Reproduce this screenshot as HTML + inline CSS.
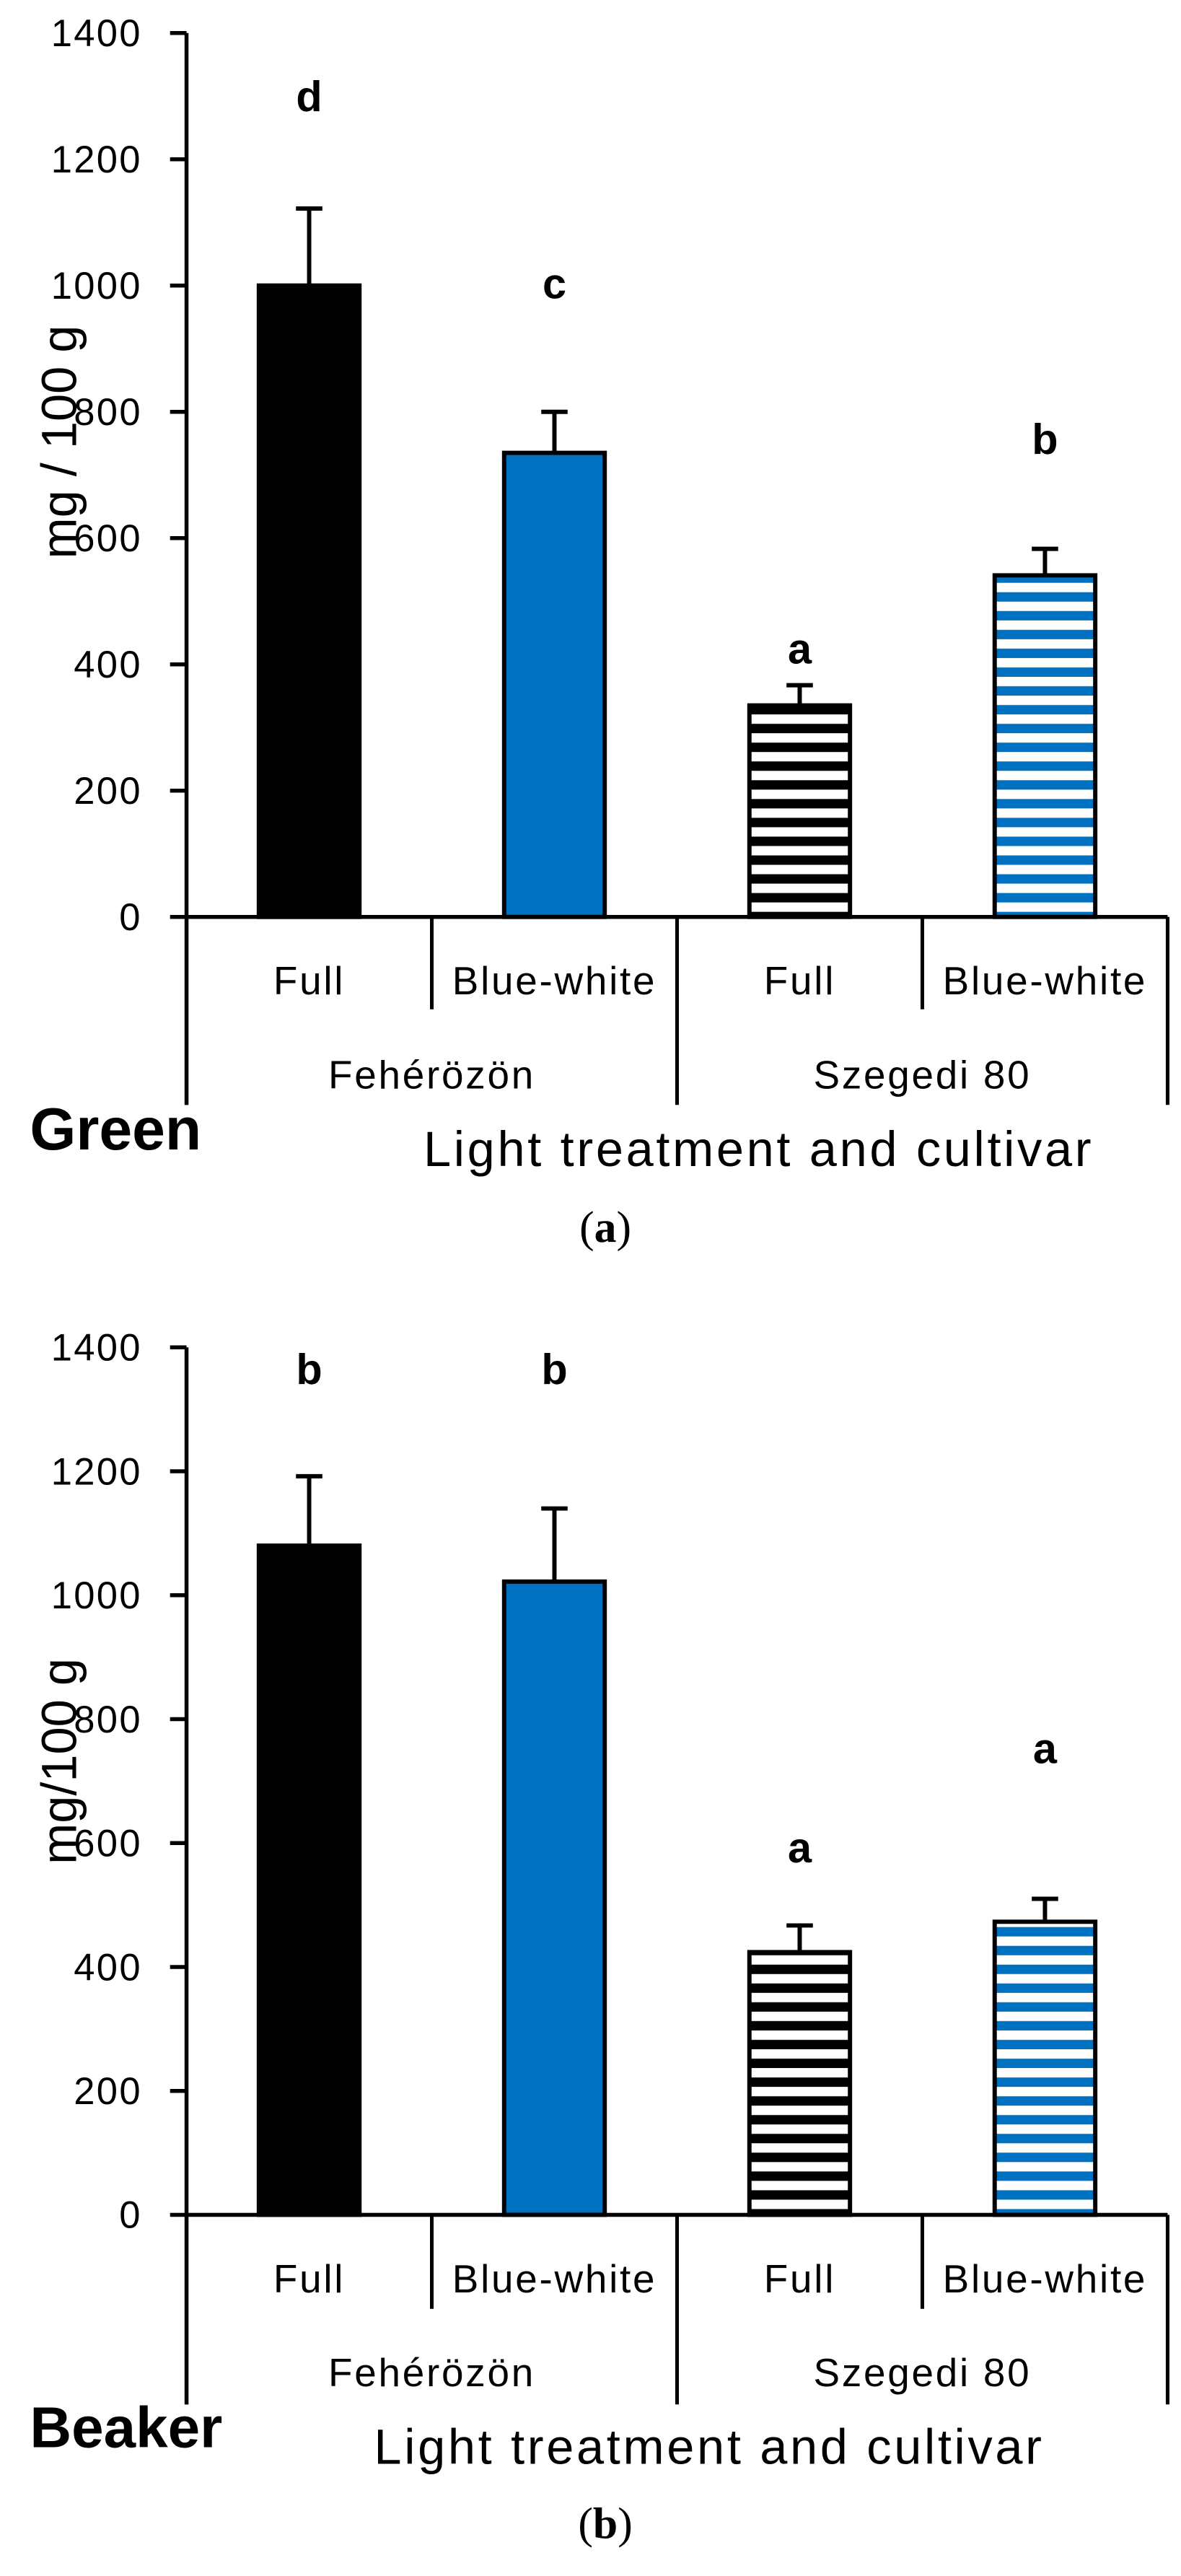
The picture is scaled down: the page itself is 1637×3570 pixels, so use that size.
<!DOCTYPE html>
<html><head><meta charset="utf-8"><style>
html,body{margin:0;padding:0;background:#fff}
svg{display:block}
text{font-family:"Liberation Sans",sans-serif;fill:#000}
</style></head><body>
<svg id="root" width="1637" height="3570" viewBox="0 0 716 1562" xmlns="http://www.w3.org/2000/svg">
<defs>
<pattern id="stripeBlack" patternUnits="userSpaceOnUse" width="10" height="11.4"><rect width="10" height="11.4" fill="#fff"/><rect y="5.7" width="10" height="5.7" fill="#000"/></pattern>
<pattern id="stripeBlue" patternUnits="userSpaceOnUse" width="10" height="11.4"><rect width="10" height="11.4" fill="#fff"/><rect y="5.7" width="10" height="5.7" fill="#0070c0"/></pattern>
</defs>
</svg>
<script>
const categories = ["Full","Blue-white","Full","Blue-white"];
const cultivars = ["Fehérözön","Szegedi 80"];
const tickValues = [0,200,400,600,800,1000,1200,1400];
const greenValues = [1000,735,335,541];
const greenErrors = [122,65,32,42];
const greenLetters = ["d","c","a","b"];
const greenLetterValues = [1300,1003,425,757];
const beakerValues = [1080,1022,424,473];
const beakerErrors = [112,118,43,37];
const beakerLetters = ["b","b","a","a"];
const beakerLetterValues = [1365,1365,593,753];

const NS="http://www.w3.org/2000/svg";
const svg=document.getElementById('root');
function mk(tag,attrs,parent){const e=document.createElementNS(NS,tag);for(const k in attrs)e.setAttribute(k,attrs[k]);(parent||svg).appendChild(e);return e;}
const fills=["#000","#0070c0","url(#stripeBlack)","url(#stripeBlue)"];

function drawChart(cfg){
  const g=mk('g',{});
  
  
  const x0=113,x1=708,y0=cfg.y0,yTop=cfg.yTop,maxV=1400;
  const yS=v=>y0-(v/maxV)*(y0-yTop);
  const bandW=(x1-x0)/categories.length;
  const xC=i=>x0+bandW*(i+0.5);
  const ya=mk('line',{x1:x0,y1:yTop,x2:x0,y2:cfg.yBottom,stroke:'#000','stroke-width':2.4},g);
  
  
  tickValues.forEach(v=>{
    const tl=mk('line',{x1:x0-10,y1:yS(v),x2:x0,y2:yS(v),stroke:'#000','stroke-width':2.4},g);
    
    
    const t=mk('text',{x:86,y:yS(v)+8,'text-anchor':'end','font-size':23,'letter-spacing':1},g);
    t.textContent=v;
    
    
  });
  const xa=mk('line',{x1:x0,y1:y0,x2:x1,y2:y0,stroke:'#000','stroke-width':2.4},g);
  
  
  for(let i=0;i<=categories.length;i++){
    const x=x0+bandW*i;
    const long=(i%2===0);
    const d=mk('line',{x1:x,y1:y0,x2:x,y2:y0+(long?cfg.longDiv:cfg.shortDiv),stroke:'#000','stroke-width':2.2},g);
    
    
  }
  categories.forEach((c,i)=>{
    const t=mk('text',{x:xC(i),y:y0+47,'text-anchor':'middle','font-size':24,'letter-spacing':1.2},g);
    t.textContent=c;
    
    
  });
  cultivars.forEach((c,i)=>{
    const t=mk('text',{x:x0+bandW*(2*i+1),y:y0+104,'text-anchor':'middle','font-size':24,'letter-spacing':1.2},g);
    t.textContent=c;
    
    
  });
  cfg.values.forEach((v,i)=>{
    const bw=61,x=xC(i)-bw/2;
    const r=mk('rect',{x:x,y:yS(v),width:bw,height:y0-yS(v),fill:fills[i],stroke:'#000','stroke-width':2.6},g);
    
    
    const top=yS(v+cfg.errors[i]);
    const e=mk('path',{d:`M${xC(i)} ${yS(v)} V${top} M${xC(i)-8} ${top} H${xC(i)+8}`,stroke:'#000','stroke-width':2.6,fill:'none'},g);
    
    
    const t=mk('text',{x:xC(i),y:yS(cfg.letterValues[i])+9,'text-anchor':'middle','font-size':26,'font-weight':'bold'},g);
    t.textContent=cfg.letters[i];
    
    
  });
  const yt=mk('text',{x:0,y:0,'text-anchor':'middle','font-size':30,transform:`translate(46,${cfg.yTitleY}) rotate(-90)`},g);
  yt.textContent=cfg.yTitle;
  
  
  const st=mk('text',{x:18,y:cfg.y0+141,'font-size':cfg.stageSize,'font-weight':'bold'},g);
  st.textContent=cfg.stage;
  
  
  const xt=mk('text',{x:cfg.xTitleX,y:cfg.y0+151,'text-anchor':'middle','font-size':30,'letter-spacing':1.6},g);
  xt.textContent='Light treatment and cultivar';
  
  
  const pl=mk('text',{x:367,y:cfg.panelY,'text-anchor':'middle','font-size':27,style:'font-family:"Liberation Serif",serif'},g);
  pl.innerHTML='(<tspan font-weight="bold">'+cfg.panel+'</tspan>)';
  
  
}
drawChart({name:'chart-green',y0:556,yTop:20,yBottom:670,longDiv:114,shortDiv:56,values:greenValues,errors:greenErrors,letters:greenLetters,letterValues:greenLetterValues,yTitle:'mg / 100 g',yTitleY:268,stage:'Green',stageSize:36,xTitleX:460,panel:'a',panelY:753});
drawChart({name:'chart-beaker',y0:1343,yTop:817,yBottom:1458,longDiv:115,shortDiv:57,values:beakerValues,errors:beakerErrors,letters:beakerLetters,letterValues:beakerLetterValues,yTitle:'mg/100 g',yTitleY:1068,stage:'Beaker',stageSize:35,xTitleX:430,panel:'b',panelY:1539});
</script>
</body></html>
